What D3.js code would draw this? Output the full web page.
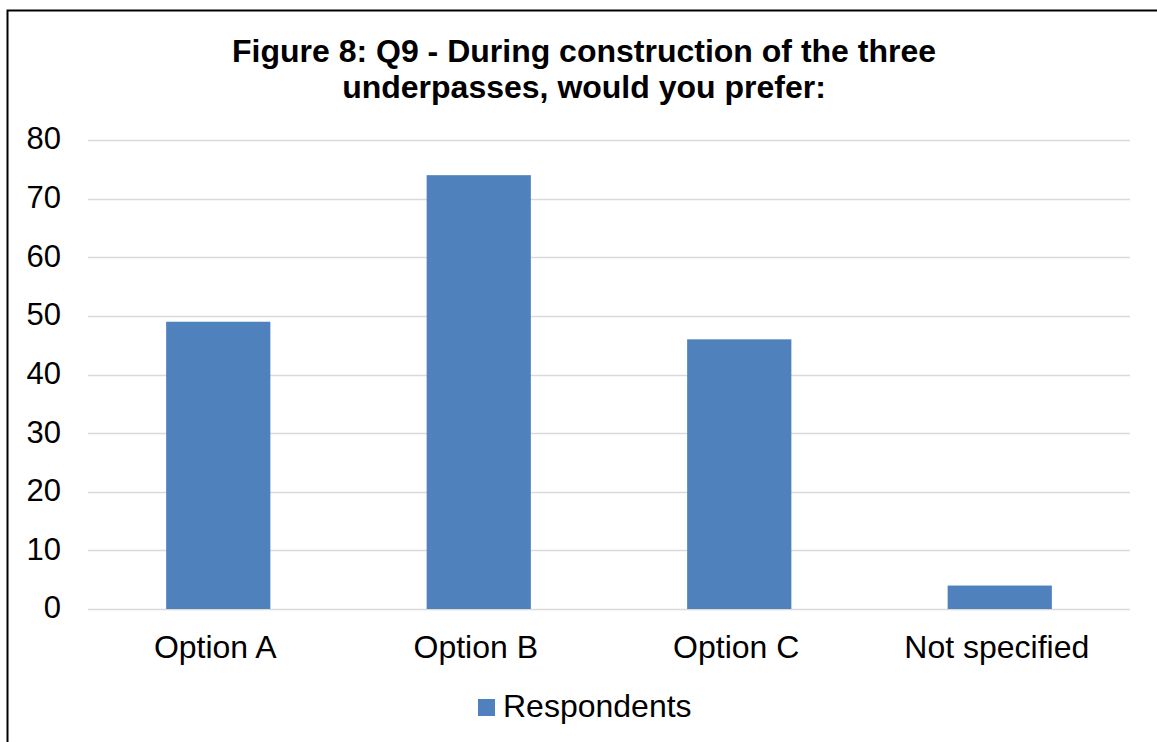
<!DOCTYPE html>
<html>
<head>
<meta charset="utf-8">
<script src="https://cdn.jsdelivr.net/npm/d3@7"></script>
<style>
  body { margin: 0; background: #fff; }
  svg { display: block; font-family: "Liberation Sans", Arial, sans-serif; }
</style>
</head>
<body>
<svg id="chart" width="1157" height="742"></svg>
<script>
const categories = ["Option A", "Option B", "Option C", "Not specified"];
const respondents = [49, 74, 46, 4];
const yTicks = [0, 10, 20, 30, 40, 50, 60, 70, 80];
const titleLines = ["Figure 8: Q9 - During construction of the three", "underpasses, would you prefer:"];
const seriesName = "Respondents";

const width = 1157, height = 742;
const margin = { left: 88, right: 27, top: 140, bottom: 133 };
const svg = d3.select("#chart");

// outer frame (clipped at right and bottom like the original)
svg.append("rect")
  .attr("x", 7.5).attr("y", 10.5)
  .attr("width", 1200).attr("height", 800)
  .attr("fill", "none").attr("stroke", "#000").attr("stroke-width", 2);

const x = d3.scaleBand()
  .domain(categories)
  .range([margin.left, width - margin.right])
  .paddingInner(0.6).paddingOuter(0.3);

const y = d3.scaleLinear()
  .domain([0, 80])
  .range([height - margin.bottom, margin.top]);

// gridlines
svg.append("g")
  .selectAll("line")
  .data(yTicks)
  .enter().append("line")
  .attr("x1", margin.left).attr("x2", width - margin.right)
  .attr("y1", d => Math.round(y(d)) + 0.5).attr("y2", d => Math.round(y(d)) + 0.5)
  .attr("stroke", "#d9d9d9").attr("stroke-width", 1.5);

// y axis labels
const yAxis = svg.append("g")
  .attr("transform", "translate(" + (margin.left - 27) + ",-1)")
  .call(d3.axisLeft(y).tickValues(yTicks).tickSize(0).tickPadding(0));
yAxis.select(".domain").remove();
yAxis.selectAll("text")
  .attr("font-size", 31).attr("fill", "#000")
  .attr("font-family", "'Liberation Sans', Arial, sans-serif");

// bars
svg.append("g")
  .selectAll("rect")
  .data(respondents)
  .enter().append("rect")
  .attr("x", (d, i) => x(categories[i]))
  .attr("width", x.bandwidth())
  .attr("y", d => y(d))
  .attr("height", d => y(0) - y(d))
  .attr("fill", "#4f81bd");

// x axis labels
const xAxis = svg.append("g")
  .attr("transform", "translate(-3," + (height - margin.bottom) + ")")
  .call(d3.axisBottom(x).tickSize(0).tickPadding(0));
xAxis.select(".domain").remove();
xAxis.selectAll("text")
  .attr("dy", null).attr("y", 49)
  .attr("font-size", 32).attr("fill", "#000")
  .attr("font-family", "'Liberation Sans', Arial, sans-serif");

// title
svg.append("g")
  .selectAll("text")
  .data(titleLines)
  .enter().append("text")
  .attr("x", 584).attr("y", (d, i) => 62 + i * 36)
  .attr("text-anchor", "middle")
  .attr("font-size", 32).attr("font-weight", "bold")
  .text(d => d);

// legend
const legend = svg.append("g");
legend.append("rect")
  .attr("x", 478).attr("y", 699).attr("width", 17).attr("height", 17)
  .attr("fill", "#4f81bd");
legend.append("text")
  .attr("x", 503).attr("y", 717)
  .attr("font-size", 32)
  .text(seriesName);
</script>
</body>
</html>
